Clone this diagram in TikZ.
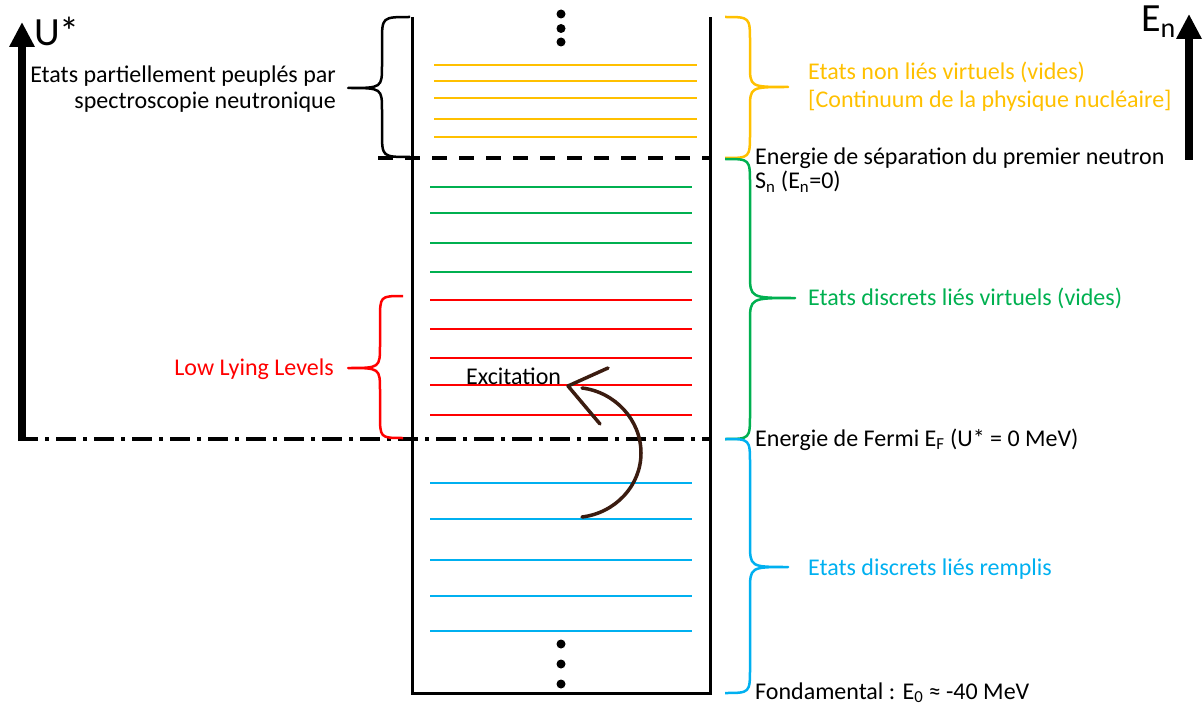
\documentclass[tikz,border=0pt]{standalone}
\usepackage{fontspec}
\setmainfont{Carlito}
\usetikzlibrary{arrows.meta}
\definecolor{cyel}{HTML}{FFC000}
\definecolor{cgrn}{HTML}{00B050}
\definecolor{cred}{HTML}{FF0000}
\definecolor{cblu}{HTML}{00B0F0}
\definecolor{cbrn}{HTML}{3B1C10}
\begin{document}
\begin{tikzpicture}[x=1pt,y=-1pt,
  txt/.style={inner sep=0pt,font=\fontsize{24}{28}\selectfont},
  big/.style={inner sep=0pt,font=\fontsize{40}{46}\selectfont},
  level/.style={line width=2pt},
  bracestyle/.style={line width=2.5pt,line join=round},
  axis/.style={line width=8pt,-{Triangle[length=25pt,width=24pt]}},
  wall/.style={line width=3pt},
  dotst/.style={fill=black}
]
\useasboundingbox (0,0) rectangle (1203,706);
% box
\draw[wall] (412,17) -- (412,693) -- (710,693) -- (710,17);
% levels
\foreach \y in {65,81,98,119,137} \draw[level,cyel] (434,\y) -- (697,\y);
\foreach \y in {187,213,243,272} \draw[level,cgrn] (430,\y) -- (692,\y);
\foreach \y in {300,329,358,385,415} \draw[level,cred] (430,\y) -- (692,\y);
\foreach \y in {483,519,560,596,631} \draw[level,cblu] (430,\y) -- (692,\y);
% dots
\foreach \y in {14,28.5,42} \fill[dotst] (561,\y) circle[radius=4.5pt];
\foreach \y in {644,664,684} \fill[dotst] (561,\y) circle[radius=4.5pt];
% separation lines
\draw[line width=4pt,dash pattern=on 15pt off 12pt] (378,158) -- (710,158);
\draw[line width=4pt,dash pattern=on 20pt off 7pt on 4pt off 7pt] (18,439) -- (710,439);
% axes
\coordinate (ubot) at (22,441);
\coordinate (utop) at (22,22);
\draw[axis] (ubot) -- (utop);
\coordinate (ebot) at (1189,160);
\coordinate (etop) at (1189,14);
\draw[axis] (ebot) -- (etop);
\node[big,anchor=base west] (ulab) at (34,46) {U*};
\node[big,anchor=base west] (elab) at (1141,32) {E\textsubscript{n}};
% braces: right facing
\draw[bracestyle,cyel] (725,17) .. controls (750,17) .. (750,42) -- (750,65) .. controls (750,87) .. (788,87) .. controls (750,87) .. (750,109) -- (750,133) .. controls (750,158) .. (725,158);
\draw[bracestyle,cgrn] (725,159) .. controls (750,159) .. (750,184) -- (750,274) .. controls (750,298) .. (795,298) .. controls (750,298) .. (750,322) -- (750,414) .. controls (750,439) .. (725,439);
\draw[bracestyle,cblu] (725,439) .. controls (750,439) .. (750,464) -- (750,543) .. controls (750,567) .. (788,567) .. controls (750,567) .. (750,591) -- (750,668) .. controls (750,693) .. (725,693);
% braces: left facing
\draw[bracestyle,black] (410,17) .. controls (382,17) .. (382,42) -- (382,65) .. controls (382,88) .. (348,88) .. controls (382,88) .. (382,111) -- (382,132) .. controls (382,157) .. (410,157);
\draw[bracestyle,cred] (403,296) .. controls (380,296) .. (380,320) -- (380,345) .. controls (380,368) .. (348,368) .. controls (380,368) .. (380,391) -- (380,414) .. controls (380,438) .. (403,438);
% excitation arrow
\draw[cbrn,line width=3.5pt,line cap=round] (582,517) .. controls (615,513) and (641,486) .. (641,453) .. controls (641,420) and (615,392) .. (582,388);
\draw[cbrn,line width=3.5pt,line cap=round,line join=round] (608,368) -- (568,386) -- (600,424);
\node[txt,anchor=base west] (exc) at (466,384) {Excitation};
% texts
\node[txt,anchor=base east] (part1) at (336,83) {Etats partiellement peuplés par};
\node[txt,anchor=base east] (part2) at (336,109) {spectroscopie neutronique};
\node[txt,anchor=base east,text=cred] (lll) at (334,375) {Low Lying Levels};
\node[txt,anchor=base west,text=cyel] (nl1) at (808,80) {Etats non liés virtuels (vides)};
\node[txt,anchor=base west,text=cyel] (nl2) at (808,108) {[Continuum de la physique nucléaire]};
\node[txt,anchor=base west] (sep1) at (755,165) {Energie de séparation du premier neutron};
\node[txt,anchor=base west] (sep2) at (755,189) {S\textsubscript{n} (E\textsubscript{n}=0)};
\node[txt,anchor=base west,text=cgrn] (dlv) at (808,305) {Etats discrets liés virtuels (vides)};
\node[txt,anchor=base west] (fermi) at (755,446) {Energie de Fermi E\textsubscript{F} (U* = 0 MeV)};
\node[txt,anchor=base west,text=cblu] (rem) at (808,575) {Etats discrets liés remplis};
\node[txt,anchor=base west] (fond) at (755,699) {Fondamental : E\textsubscript{0} ≈ -40 MeV};
\end{tikzpicture}
\end{document}
